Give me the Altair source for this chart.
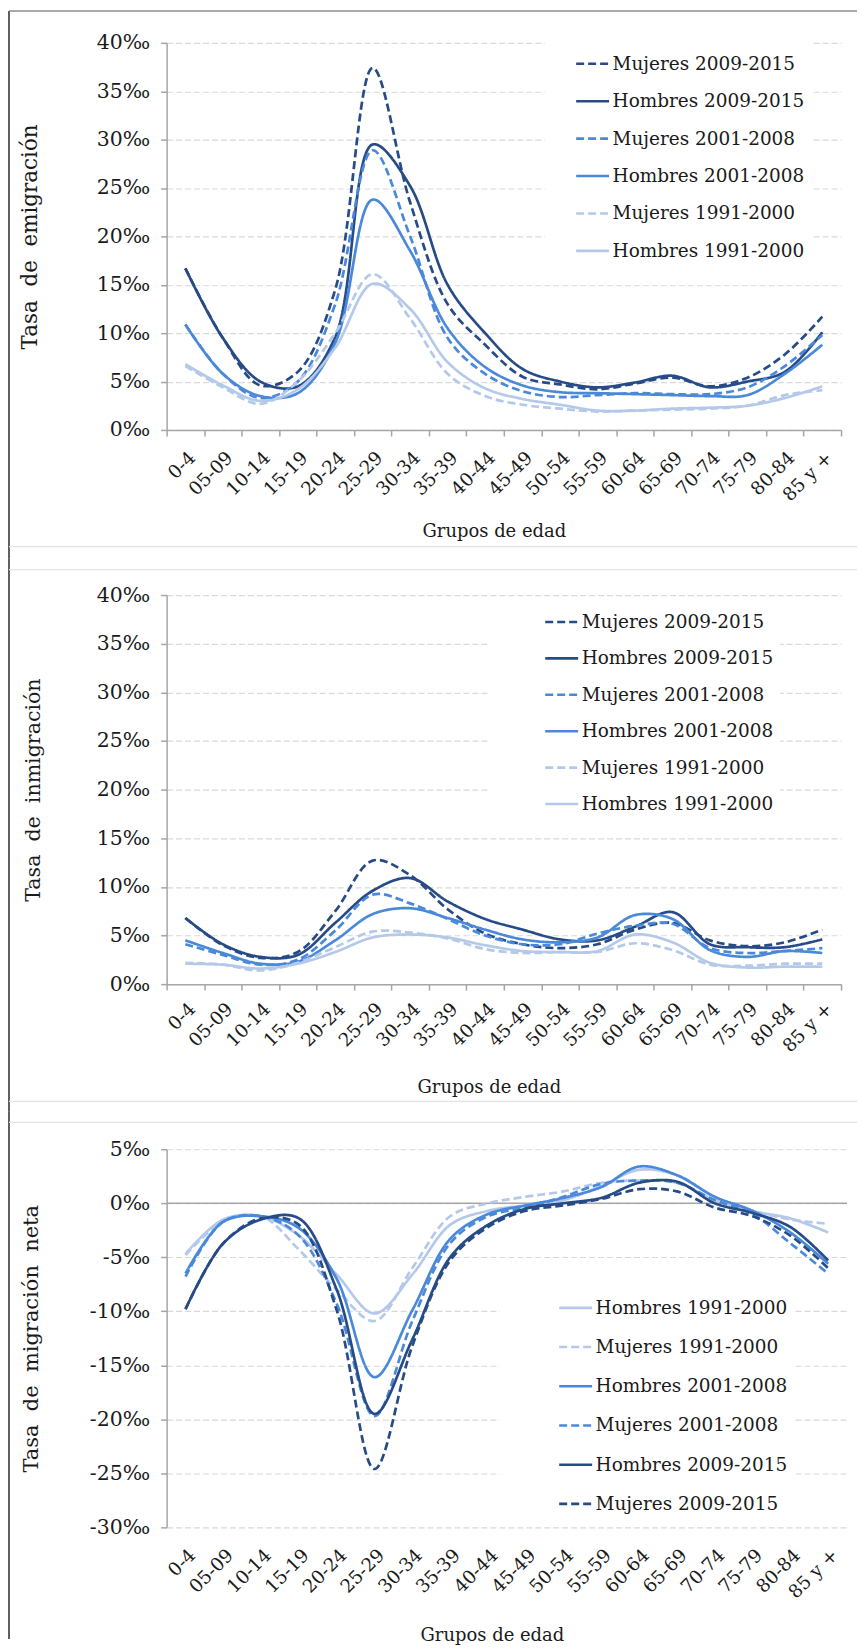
import altair as alt
import pandas as pd

ages = ["0-4", "05-09", "10-14", "15-19", "20-24", "25-29", "30-34", "35-39", "40-44",
        "45-49", "50-54", "55-59", "60-64", "65-69", "70-74", "75-79", "80-84", "85 y +"]

names = ["Mujeres 2009-2015", "Hombres 2009-2015", "Mujeres 2001-2008",
         "Hombres 2001-2008", "Mujeres 1991-2000", "Hombres 1991-2000"]
colors = ["#264b86", "#264b86", "#4a89da", "#4a89da", "#b4c9ea", "#b4c9ea"]
dashes = [[8, 4], [1, 0], [8, 4], [1, 0], [8, 4], [1, 0]]

# Tasa de emigración (por mil)
emi_m09 = [16.7, 9.5, 4.6, 6.0, 14.5, 37.4, 23.5, 13.0, 8.8, 5.5, 4.7, 4.2, 4.8, 5.4, 4.5, 5.4, 7.8, 11.7]
emi_h09 = [16.7, 9.5, 5.0, 4.5, 9.6, 29.5, 25.2, 15.0, 10.0, 6.3, 5.0, 4.4, 4.9, 5.6, 4.4, 5.0, 6.0, 10.1]
emi_m01 = [10.9, 5.8, 3.3, 5.0, 13.0, 28.9, 20.0, 9.5, 5.8, 4.0, 3.4, 3.6, 3.8, 3.7, 3.7, 4.4, 6.6, 9.8]
emi_h01 = [10.9, 5.8, 3.5, 3.8, 9.0, 23.8, 18.5, 10.5, 6.5, 4.6, 3.9, 3.8, 3.7, 3.6, 3.5, 3.6, 5.8, 8.8]
emi_m91 = [6.6, 4.4, 2.7, 5.0, 10.0, 16.1, 11.5, 5.8, 3.5, 2.6, 2.2, 1.9, 2.0, 2.1, 2.2, 2.5, 3.6, 4.1]
emi_h91 = [6.8, 4.6, 3.0, 4.2, 8.5, 15.1, 12.5, 7.0, 4.3, 3.2, 2.6, 2.0, 2.0, 2.2, 2.3, 2.5, 3.3, 4.5]

# Tasa de inmigración (por mil)
inm_m09 = [6.8, 4.0, 2.7, 3.3, 7.5, 12.7, 11.2, 7.7, 5.2, 4.1, 3.7, 4.1, 5.6, 6.3, 4.5, 3.9, 4.3, 5.6]
inm_h09 = [6.8, 4.1, 2.8, 3.0, 6.3, 9.6, 10.9, 8.5, 6.7, 5.6, 4.6, 4.5, 5.9, 7.4, 4.1, 3.8, 3.8, 4.6]
inm_m01 = [4.1, 3.0, 2.0, 2.5, 5.5, 9.2, 8.3, 6.7, 5.0, 4.1, 4.1, 5.2, 6.0, 6.2, 3.7, 3.2, 3.4, 3.7]
inm_h01 = [4.5, 3.2, 2.1, 2.3, 4.5, 7.2, 7.8, 6.8, 5.6, 4.6, 4.3, 4.8, 7.1, 6.7, 3.5, 2.8, 3.4, 3.2]
inm_m91 = [2.2, 2.0, 1.4, 2.2, 3.8, 5.4, 5.3, 4.7, 3.6, 3.2, 3.3, 3.3, 4.2, 3.5, 2.0, 1.9, 2.1, 2.1]
inm_h91 = [2.1, 2.0, 1.6, 2.1, 3.3, 4.8, 5.1, 4.8, 4.0, 3.4, 3.3, 3.4, 5.1, 4.3, 2.2, 1.7, 1.8, 1.8]

# Tasa de migración neta (por mil)
net_h91 = [-4.7, -1.5, -1.2, -3.0, -6.6, -10.2, -6.6, -2.0, -0.7, -0.2, 0.3, 1.6, 3.1, 2.6, 0.6, -0.7, -1.4, -2.7]
net_m91 = [-4.8, -1.7, -1.2, -4.3, -8.0, -10.9, -6.0, -1.2, 0.0, 0.6, 1.1, 1.9, 2.1, 1.9, 0.3, -0.7, -1.5, -1.9]
net_h01 = [-6.5, -1.7, -1.2, -2.3, -7.0, -16.1, -9.9, -3.3, -1.0, -0.2, 0.5, 1.5, 3.4, 2.6, 0.6, -0.7, -2.7, -5.6]
net_m01 = [-6.8, -1.7, -1.2, -3.0, -9.3, -19.7, -10.9, -3.7, -1.2, -0.4, 0.6, 1.8, 2.1, 1.9, 0.3, -1.0, -3.7, -6.5]
net_h09 = [-9.8, -3.7, -1.5, -1.4, -8.0, -19.5, -12.6, -5.0, -2.0, -0.5, 0.0, 0.5, 1.9, 2.0, 0.0, -0.9, -2.2, -5.3]
net_m09 = [-9.8, -3.7, -1.4, -2.0, -9.9, -24.6, -13.2, -5.3, -2.2, -0.7, -0.2, 0.4, 1.3, 1.1, -0.4, -1.2, -3.0, -6.0]

FONT = "DejaVu Serif"
TXT = "#1a1a1a"
AXC = "#a6a6a6"
NB = "\u00a0"


def long_df(series):
    rows = []
    for k, (name, vals) in enumerate(series):
        for j, v in enumerate(vals):
            rows.append({"edad": ages[j], "serie": name, "valor": v, "k": k})
    return pd.DataFrame(rows)


def frame_layers(left, top, bottom, right, seps, top_border=False):
    d = pd.DataFrame({"k": [0]})
    out = [alt.Chart(d).mark_rule(color="#2b2b2b", strokeWidth=1.5).encode(
        x=alt.value(left), y=alt.value(top), y2=alt.value(bottom))]
    if top_border:
        out.append(alt.Chart(d).mark_rule(color="#8c8c8c", strokeWidth=1.5).encode(
            x=alt.value(left), x2=alt.value(right), y=alt.value(top)))
    for s in seps:
        out.append(alt.Chart(d).mark_rule(color="#e3e3e3", strokeWidth=1.2).encode(
            x=alt.value(left), x2=alt.value(right), y=alt.value(s)))
    return out


def panel(df, order_names, ydomain, yvals, ytitle, ytitle_size, w, h, title_x, xt_x, xt_y,
          leg_x, leg_y, row_pad, sym_off, zero=False, lab_pad=12, frame=None):
    cols = [colors[names.index(n)] for n in order_names]
    dsh = [dashes[names.index(n)] for n in order_names]
    legend = alt.Legend(
        title=None, orient="none", legendX=leg_x, legendY=leg_y, direction="vertical",
        fillColor="white", padding=6, symbolOffset=sym_off, symbolType="stroke",
        symbolSize=1089, symbolStrokeWidth=2.6, labelFont=FONT, labelFontSize=18.5,
        labelColor=TXT, labelOffset=2, rowPadding=row_pad, labelLimit=400)
    xaxis = alt.Axis(
        title="Grupos de edad", titleFont=FONT, titleFontSize=18, titleFontWeight="normal",
        titleColor=TXT, titleX=xt_x, titleY=xt_y, titleBaseline="top", titleAlign="center",
        labelAngle=-45, labelFont=FONT, labelFontSize=18.5, labelColor=TXT,
        labelPadding=lab_pad, domain=not zero, domainColor=AXC, domainWidth=1.5,
        ticks=not zero, tickColor=AXC, tickSize=6, tickWidth=1.5, tickBand="extent",
        grid=False)
    yaxis = alt.Axis(
        values=yvals, labelExpr="datum.value + '‰'", title=ytitle, titleFont=FONT,
        titleFontSize=ytitle_size, titleFontWeight="normal", titleColor=TXT, titleAngle=-90,
        titleX=title_x, titleY=h / 2, titleAlign="center", titleBaseline="bottom",
        labelFont=FONT, labelFontSize=20.5, labelColor=TXT, labelPadding=11,
        domainColor=AXC, domainWidth=1.5, tickColor=AXC, tickSize=6, tickWidth=1.5,
        gridColor="#d9d9d9", gridDash=[6, 3], gridWidth=1.2)
    lines = alt.Chart(df).mark_line(interpolate="catmull-rom", strokeWidth=2.7).encode(
        x=alt.X("edad:N", sort=ages, bandPosition=0.5,
                scale=alt.Scale(type="band", paddingInner=0, paddingOuter=0), axis=xaxis),
        y=alt.Y("valor:Q", scale=alt.Scale(domain=ydomain, nice=False, zero=False), axis=yaxis),
        color=alt.Color("serie:N", scale=alt.Scale(domain=order_names, range=cols), legend=legend),
        strokeDash=alt.StrokeDash("serie:N", scale=alt.Scale(domain=order_names, range=dsh),
                                  legend=legend),
        order=alt.Order("k:Q"),
    )
    layers = []
    if zero:
        layers.append(alt.Chart(pd.DataFrame({"v": [0]})).mark_rule(
            color=AXC, strokeWidth=1.5).encode(y="v:Q"))
    layers.append(lines)
    layers += frame
    return alt.layer(*layers).properties(width=w, height=h)


df1 = long_df([(names[0], emi_m09), (names[1], emi_h09), (names[2], emi_m01),
               (names[3], emi_h01), (names[4], emi_m91), (names[5], emi_h91)])
df2 = long_df([(names[0], inm_m09), (names[1], inm_h09), (names[2], inm_m01),
               (names[3], inm_h01), (names[4], inm_m91), (names[5], inm_h91)])
names3 = [names[5], names[4], names[3], names[2], names[1], names[0]]
df3 = long_df([(names3[0], net_h91), (names3[1], net_m91), (names3[2], net_h01),
               (names3[3], net_m01), (names3[4], net_h09), (names3[5], net_m09)])

p1 = panel(df1, names, [0, 40], list(range(0, 41, 5)), f"Tasa{NB} de{NB} emigración", 21.5,
           676, 388, -125, 328, 93, 379, -3, 9.5, 24,
           frame=frame_layers(-158, -32, 516.5, 692, [505], top_border=True))
p2 = panel(df2, names, [0, 40], list(range(0, 41, 5)), f"Tasa{NB} de{NB} inmigración", 20.6,
           676, 390, -123, 323, 95, 324, 3, 8.5, 48, lab_pad=9,
           frame=frame_layers(-158, -37, 518, 692, [-25.5, 507.5]))
p3 = panel(df3, names3, [-30, 5], list(range(-30, 6, 5)),
           f"Tasa{NB} de{NB} migración{NB} neta", 21,
           682, 379, -125, 326, 99, 334, 135, 11.3, 52, zero=True, lab_pad=18,
           frame=frame_layers(-158, -37.5, 491, 692, [-27]))

chart = alt.vconcat(p1, p2, p3, spacing=165.5, bounds="flush").resolve_scale(
    color="independent", strokeDash="independent"
).resolve_legend(
    color="independent", strokeDash="independent"
).properties(
    padding=0, background="white"
).configure_view(stroke=None)

chart.save("out.html", embed_options={"renderer": "svg", "actions": False})
